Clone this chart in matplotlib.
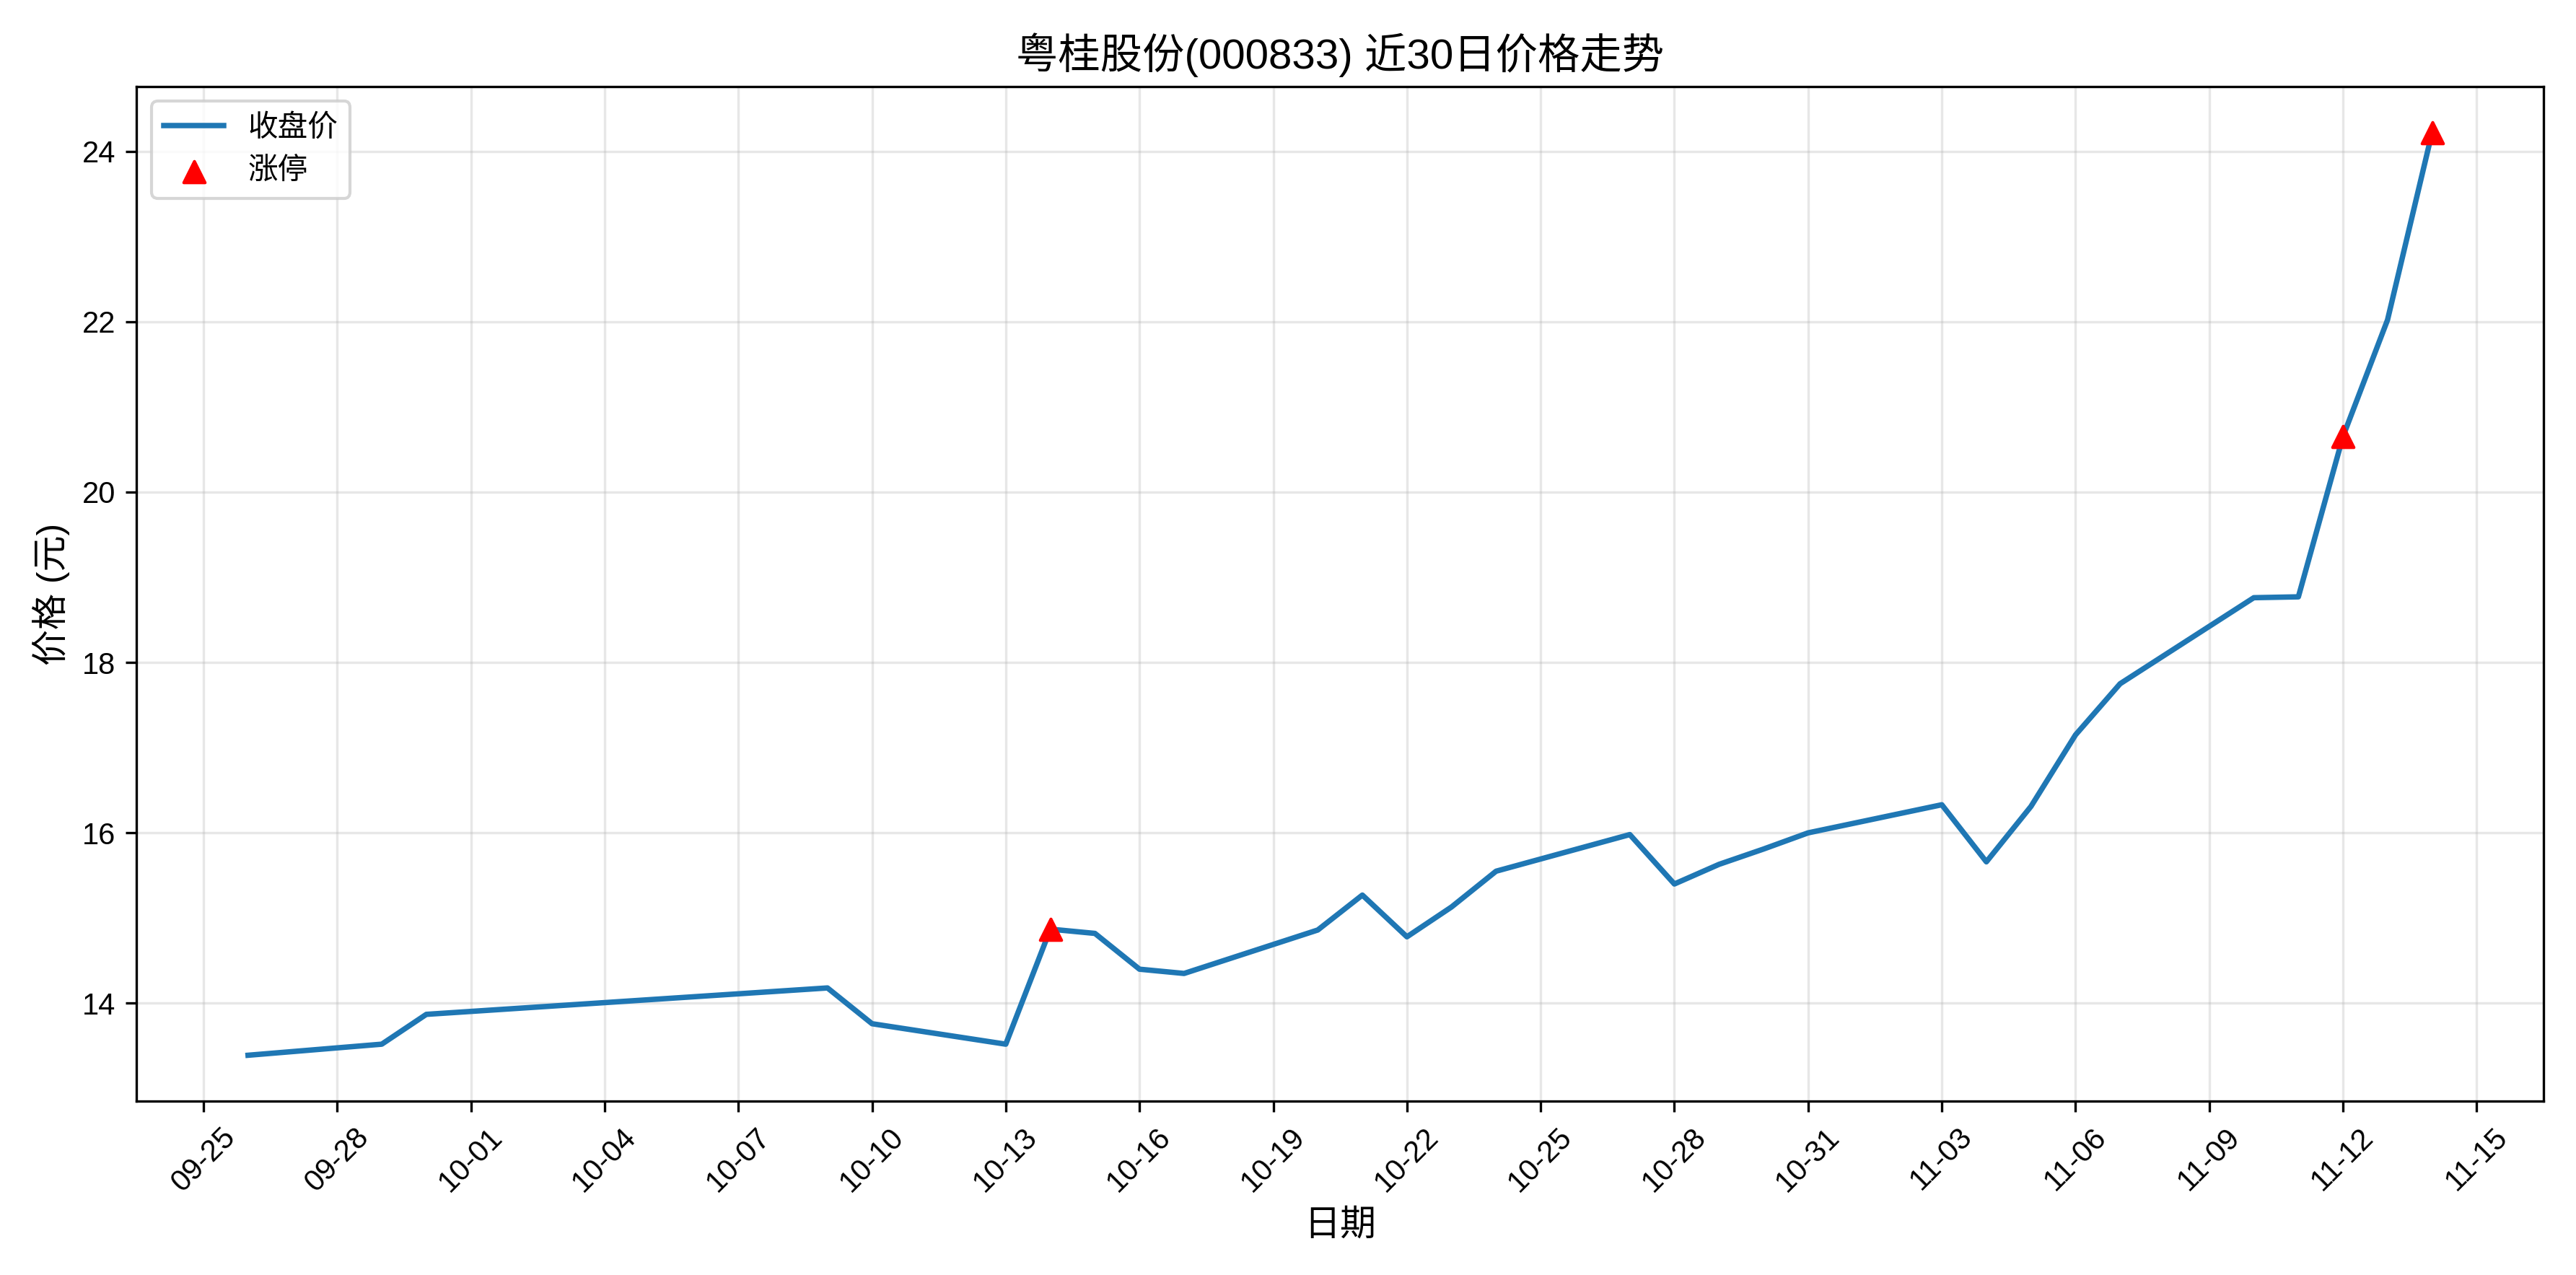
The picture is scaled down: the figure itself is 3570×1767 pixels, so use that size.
import matplotlib
matplotlib.use('Agg')
import matplotlib.pyplot as plt
import matplotlib.dates as mdates
import pandas as pd

plt.rcParams['font.family'] = ['Liberation Sans', 'Noto Sans CJK SC', 'DejaVu Sans']
plt.rcParams['axes.unicode_minus'] = False

dates = ['2025-09-26', '2025-09-29', '2025-09-30', '2025-10-09', '2025-10-10', '2025-10-13',
         '2025-10-14', '2025-10-15', '2025-10-16', '2025-10-17', '2025-10-20', '2025-10-21',
         '2025-10-22', '2025-10-23', '2025-10-24', '2025-10-27', '2025-10-28', '2025-10-29',
         '2025-10-30', '2025-10-31', '2025-11-03', '2025-11-04', '2025-11-05', '2025-11-06',
         '2025-11-07', '2025-11-10', '2025-11-11', '2025-11-12', '2025-11-13', '2025-11-14']
close = [13.39, 13.52, 13.87, 14.18, 13.76, 13.52, 14.87, 14.82, 14.40, 14.35, 14.86, 15.27,
         14.78, 15.13, 15.55, 15.98, 15.40, 15.63, 15.81, 16.00, 16.33, 15.66, 16.31, 17.15,
         17.75, 18.76, 18.77, 20.65, 22.02, 24.22]
limit_dates = ['2025-10-14', '2025-11-12', '2025-11-14']
limit_close = [14.87, 20.65, 24.22]

dates = pd.to_datetime(dates)
limit_dates = pd.to_datetime(limit_dates)

fig, ax = plt.subplots(figsize=(11.9, 5.89), dpi=300)
ax.plot(dates, close, color='#1f77b4', linewidth=1.8, label='收盘价')
ax.scatter(limit_dates, limit_close, color='red', marker='^', s=50, zorder=5, label='涨停')

ax.set_title('粤桂股份(000833) 近30日价格走势', fontsize=14)
ax.set_xlabel('日期', fontsize=12)
ax.set_ylabel('价格 (元)', fontsize=12)
ax.set_xticks(pd.date_range('2025-09-25', '2025-11-15', freq='3D'))
ax.xaxis.set_major_formatter(mdates.DateFormatter('%m-%d'))
ax.set_xlim(pd.Timestamp('2025-09-23 12:00'), pd.Timestamp('2025-11-16 12:00'))
plt.setp(ax.get_xticklabels(), rotation=45)
ax.grid(True, alpha=0.3)
ax.legend(loc='upper left')

plt.tight_layout()
plt.savefig('out.png', dpi=300)
